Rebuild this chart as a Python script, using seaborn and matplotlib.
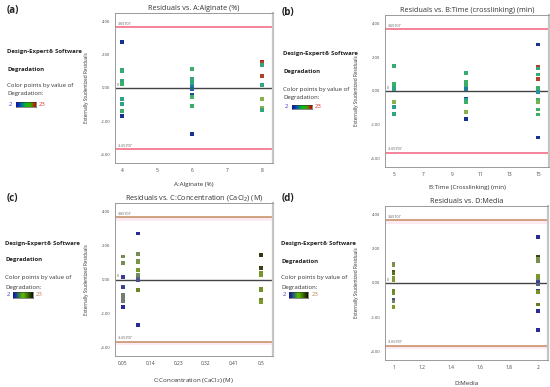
""" Residuals vs. factor plots for the degradation model """

import numpy as np
import pandas as pd
import matplotlib
matplotlib.use("Agg")
import matplotlib.pyplot as plt
from matplotlib.colors import LinearSegmentedColormap
import seaborn as sns

# Residuals, with the degradation value used for colour
alginate = [4, 4, 4, 4, 4, 4, 4, 4, 4, 4,
            6, 6, 6, 6, 6, 6, 6, 6, 6, 6,
            8, 8, 8, 8, 8, 8, 8, 8]
resid_a = [2.76, 1.08, 1.0, 0.44, 0.34, 0.26, -0.64, -0.94, -1.4, -1.66,
           1.14, 0.56, 0.3, 0.18, 0.06, -0.06, -0.4, -0.54, -1.1, -2.76,
           1.56, 1.48, 1.38, 0.7, 0.16, -0.66, -1.22, -1.34]
degr_a = [3, 10, 11, 11, 10, 12, 9, 9, 12, 3,
          12, 10, 10, 9, 6, 5, 4, 13, 12, 3,
          22, 21, 10, 21, 10, 16, 16, 10]

time_cl = [5, 5, 5, 5, 5, 5, 5, 5,
           10, 10, 10, 10, 10, 10, 10, 10, 10, 10, 10,
           15, 15, 15, 15, 15, 15, 15, 15, 15, 15, 15, 15]
resid_b = [1.5, 0.4, 0.3, 0.2, 0.1, -0.66, -0.96, -1.36,
           1.1, 1.05, 0.55, 0.35, 0.2, 0.1, -0.45, -0.55, -0.65, -1.25, -1.66,
           2.76, 1.44, 1.34, 0.98, 0.7, 0.18, -0.06, -0.5, -0.66, -1.1, -1.4, -2.76]
degr_b = [11, 12, 12, 10, 9, 16, 8, 10,
          12, 11, 12, 12, 10, 6, 4, 9, 12, 16, 3,
          3, 21, 10, 11, 21, 12, 7, 12, 15, 12, 12, 3]

conc = [0.05, 0.05, 0.05, 0.05, 0.05, 0.05, 0.05, 0.05, 0.05,
        0.1, 0.1, 0.1, 0.1, 0.1, 0.1, 0.1, 0.1, 0.1, 0.1, 0.1,
        0.5, 0.5, 0.5, 0.5, 0.5, 0.5, 0.5, 0.5, 0.5]
resid_c = [1.35, 0.98, 0.13, -0.43, -0.48, -0.91, -1.07, -1.3, -1.62,
           2.7, 1.5, 1.09, 1.04, 0.57, 0.29, 0.17, 0.06, -0.06, -0.63, -2.69,
           1.45, 0.69, 0.4, 0.3, 0.23, -0.53, -0.65, -1.22, -1.33]
degr_c = [10, 10, 4, 5, 4, 8, 8, 8, 3,
          3, 10, 11, 11, 13, 10, 9, 6, 5, 15, 3,
          22, 21, 14, 13, 13, 14, 14, 15, 13]

media = [1, 1, 1, 1, 1, 1, 1, 1, 1, 1, 1,
         2, 2, 2, 2, 2, 2, 2, 2, 2, 2, 2, 2, 2, 2, 2]
resid_d = [1.13, 1.02, 0.66, 0.55, 0.28, 0.19, -0.47, -0.62, -0.98, -1.09, -1.4,
           2.7, 1.51, 1.42, 1.3, 0.43, 0.28, 0.19, 0.09, 0.0, -0.09, -0.45, -0.53,
           -1.25, -1.64, -2.74]
degr_d = [10, 11, 19, 17, 13, 13, 15, 14, 5, 9, 13,
          3, 21, 11, 10, 13, 13, 10, 5, 4, 6, 4, 14, 16, 3, 3]

limit = 3.65707
degr_range = (2, 23)

panels = [
    ("(a)", "Residuals vs. A:Alginate (%)", "A:Alginate (%)",
     alginate, resid_a, degr_a, [4, 5, 6, 7, 8], ["4", "5", "6", "7", "8"], (3.79, 8.32)),
    ("(b)", "Residuals vs. B:Time (crosslinking) (min)", "B:Time (Crosslinking) (min)",
     time_cl, resid_b, degr_b, [5, 7, 9, 11, 13, 15], ["5", "7", "9", "11", "13", "15"],
     (4.38, 15.74)),
    ("(c)", "Residuals vs. C:Concentration (CaCl$_2$) (M)", "C:Concentration (CaCl$_2$) (M)",
     conc, resid_c, degr_c, [0.05, 0.14, 0.23, 0.32, 0.41, 0.5],
     ["0.05", "0.14", "0.23", "0.32", "0.41", "0.5"], (0.025, 0.538)),
    ("(d)", "Residuals vs. D:Media", "D:Media",
     media, resid_d, degr_d, [1, 1.2, 1.4, 1.6, 1.8, 2],
     ["1", "1.2", "1.4", "1.6", "1.8", "2"], (0.94, 2.07)),
]

# pixel boxes of each axes: left, top, right, bottom
boxes = [(115, 13, 273, 163), (385, 15, 549, 167), (115, 203, 273, 356), (385, 206, 548, 360)]
# left text block: panel label, text x, y of the four lines, colour bar box
info = [
    dict(lab=(7, 10), x=7, ys=(52, 69, 86, 94), bar=(16, 102, 36, 107), hi=39),
    dict(lab=(282, 12), x=283, ys=(54, 72, 89, 98), bar=(292, 105, 312, 109), hi=315),
    dict(lab=(7, 198), x=5, ys=(243, 260, 278, 287), bar=(13, 292, 33, 298), hi=36),
    dict(lab=(282, 199), x=281, ys=(243, 261, 278, 287), bar=(289, 292, 308, 298), hi=312),
]
xlab_gap = [19, 18, 20, 21]

W, H = 550, 387

cmap_red = LinearSegmentedColormap.from_list(
    "de_red", ["#101a8c", "#2a9a9a", "#3fb060", "#b0b040", "#b00020"])
cmap_dark = LinearSegmentedColormap.from_list(
    "de_dark", ["#1a1a9a", "#6e7880", "#7fa030", "#5a6a18", "#2a2a10"])
# the little colour keys look more saturated than the points
bar_red = LinearSegmentedColormap.from_list(
    "bar_red", ["#0000e0", "#0060a0", "#00c020", "#40a000", "#d00000"])
bar_dark = LinearSegmentedColormap.from_list(
    "bar_dark", ["#0000d0", "#2a6a60", "#60c000", "#3a6a00", "#101000"])


def fig_xy(x, y):
    return x / W, 1 - y / H


sns.set_style("white")
plt.rcParams["font.family"] = ["Open Sans", "DejaVu Sans"]

fig = plt.figure(figsize=(5.5, 3.87), dpi=100)

for i, (tag, title, xlabel, xs, ys, dg, ticks, ticklabels, xlim) in enumerate(panels):
    l, t, r, b = boxes[i]
    ax = fig.add_axes([l / W, 1 - b / H, (r - l) / W, (b - t) / H])
    red_style = i < 2
    cmap = cmap_red if red_style else cmap_dark
    line_col = "#f2607c" if red_style else "#c48a60"

    if not red_style:
        ax.axhspan(limit - 0.2, limit, color="#fdebf1", lw=0, zorder=0)
        ax.axhspan(-limit - 0.2, -limit, color="#fdebf1", lw=0, zorder=0)
    ax.axhline(limit, color=line_col, lw=1.1, zorder=1)
    ax.axhline(-limit, color=line_col, lw=1.1, zorder=1)
    ax.axhline(0, color="#444444", lw=1.0, zorder=1)

    df = pd.DataFrame({"x": xs, "resid": ys, "degr": dg})
    sns.scatterplot(data=df, x="x", y="resid", hue="degr", palette=cmap,
                    hue_norm=degr_range, marker="s", s=7, linewidth=0,
                    edgecolor="none", legend=False, ax=ax, zorder=3)

    ax.set_xlim(*xlim)
    ax.set_ylim(-4.5, 4.5)
    ax.set_xticks(ticks)
    ax.set_xticklabels(ticklabels)
    ax.set_yticks([-4, -2, 0, 2, 4])
    ax.set_yticklabels(["-4.00", "-2.00", "0.00", "2.00", "4.00"])
    ax.tick_params(labelsize=3, length=2, width=0.4, color="#777777",
                   labelcolor="#444444", pad=1.5)
    ax.tick_params(axis="x", labelsize=3.5)

    for side in ["left", "bottom", "top"]:
        ax.spines[side].set_color("#9a9a9a")
        ax.spines[side].set_linewidth(0.7)
    ax.spines["right"].set_color("#c4c4c4")
    ax.spines["right"].set_linewidth(1.6)

    ax.set_title(title, fontsize=5.2, color="#333333", pad=2.5)
    ax.set_xlabel(xlabel, fontsize=4.5, color="#333333")
    ax.set_ylabel("Externally Studentized Residuals", fontsize=3.4, color="#333333")
    ax.xaxis.set_label_coords(0.5, -xlab_gap[i] / (b - t))
    ax.yaxis.set_label_coords(-26 / (r - l), 0.5)

    x0 = xlim[0] + 0.015 * (xlim[1] - xlim[0])
    ax.text(x0, limit + 0.08, "3.65707", fontsize=2.6, color="#555555", va="bottom")
    ax.text(x0, -limit + 0.08, "-3.65707", fontsize=2.6, color="#555555", va="bottom")
    ax.text(x0 - 0.006 * (xlim[1] - xlim[0]), 0.08, "0", fontsize=2.6,
            color="#555555", va="bottom")

    # left-hand Design-Expert annotation block
    inf = info[i]
    fig.text(*fig_xy(*inf["lab"]), tag, fontsize=7, fontweight="bold",
             va="center", ha="left", color="#222222")
    tx = inf["x"]
    y1, y2, y3, y4 = inf["ys"]
    fig.text(*fig_xy(tx, y1), "Design-Expert® Software", fontsize=4.3,
             fontweight="bold", va="center", color="#222222")
    fig.text(*fig_xy(tx, y2), "Degradation", fontsize=4.3,
             fontweight="bold", va="center", color="#222222")
    fig.text(*fig_xy(tx, y3), "Color points by value of", fontsize=4.3,
             va="center", color="#333333")
    fig.text(*fig_xy(tx, y4), "Degradation:", fontsize=4.3,
             va="center", color="#333333")

    bx0, by0, bx1, by1 = inf["bar"]
    cax = fig.add_axes([bx0 / W, 1 - by1 / H, (bx1 - bx0) / W, (by1 - by0) / H])
    cax.imshow(np.linspace(0, 1, 128)[None, :], aspect="auto",
               cmap=bar_red if red_style else bar_dark)
    cax.set_xticks([])
    cax.set_yticks([])
    for sp in cax.spines.values():
        sp.set_linewidth(0.4)
        sp.set_color("#333333")
    ymid = (by0 + by1) / 2
    fig.text(*fig_xy(tx + 2, ymid), "2", fontsize=4.3, va="center",
             color="#3a3ad0")
    fig.text(*fig_xy(inf["hi"], ymid), "23", fontsize=4.3, va="center",
             color="#e03030" if red_style else "#c08050")

fig.savefig("out.png", dpi=100)
